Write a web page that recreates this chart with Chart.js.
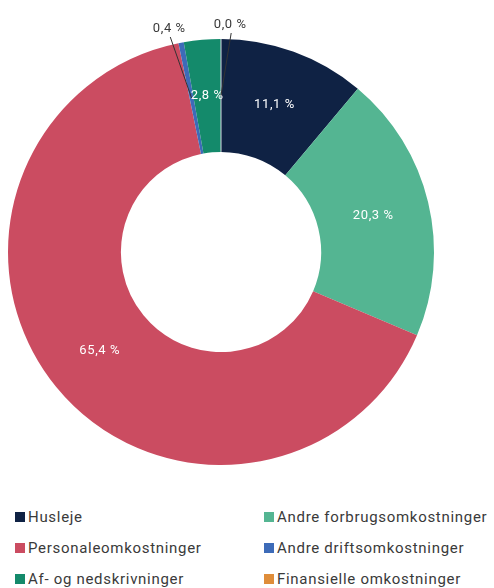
<!DOCTYPE html>
<html>
<head>
<meta charset="utf-8">
<script src="https://cdn.jsdelivr.net/npm/chart.js@4.4.1/dist/chart.umd.min.js"></script>
<style>
    html, body {
        margin: 0;
        padding: 0;
        background: #ffffff;
    }
    #wrap {
        position: relative;
        width: 494px;
        height: 588px;
        overflow: hidden;
    }
    #chart {
        position: absolute;
        left: 0;
        top: 0;
    }
    .legend-item {
        position: absolute;
        font-family: Roboto, "Noto Sans", sans-serif;
        font-size: 15px;
        color: #3a3a3a;
        white-space: nowrap;
        line-height: 18px;
        letter-spacing: 0.7px;
    }
    .legend-item span {
        display: inline-block;
        width: 10px;
        height: 10px;
        margin-right: 3px;
    }
</style>
</head>
<body>
<div id="wrap">
    <canvas id="chart" width="494" height="500"></canvas>
    <div id="legend"></div>
</div>
<script>
// Cost categories (clockwise from 12 o'clock)
const categories = [
    'Husleje',
    'Andre forbrugsomkostninger',
    'Personaleomkostninger',
    'Andre driftsomkostninger',
    'Af- og nedskrivninger',
    'Finansielle omkostninger'
];

// Share of total costs, percent
const shares = [11.1, 20.3, 65.4, 0.4, 2.8, 0.0];

const sliceColors = ['#0f2244', '#54b592', '#cb4c61', '#3d6bb8', '#148a6b', '#df8d3a'];

const labelFont = '13px Roboto, "Noto Sans", sans-serif';

function formatShare(v) {
    return v.toFixed(1).replace('.', ',') + ' %';
}

/**
 * Draws the percentage labels: inside the ring for normal slices,
 * above the ring with a leader line for the tiny ones.
 */
const sliceLabels = {
    id: 'sliceLabels',
    afterDatasetsDraw(chart) {
        const ctx = chart.ctx;
        const meta = chart.getDatasetMeta(0);
        const values = chart.data.datasets[0].data;
        const outside = [];

        ctx.save();
        ctx.font = labelFont;
        ctx.letterSpacing = '0.6px';
        ctx.textAlign = 'center';
        ctx.textBaseline = 'middle';

        meta.data.forEach((arc, i) => {
            const p = arc.getProps(['x', 'y', 'startAngle', 'endAngle', 'innerRadius', 'outerRadius'], true);
            const mid = (p.startAngle + p.endAngle) / 2;
            const rMid = (p.innerRadius + p.outerRadius) / 2;
            const text = formatShare(values[i]);

            // zero slices still get a hairline where they sit
            if (values[i] === 0) {
                ctx.strokeStyle = '#d8dde3';
                ctx.lineWidth = 1;
                ctx.beginPath();
                ctx.moveTo(p.x + Math.cos(mid) * p.innerRadius, p.y + Math.sin(mid) * p.innerRadius);
                ctx.lineTo(p.x + Math.cos(mid) * p.outerRadius, p.y + Math.sin(mid) * p.outerRadius);
                ctx.stroke();
            }

            if (values[i] < 1) {
                const rOut = p.outerRadius + 14;
                outside.push({
                    text,
                    w: ctx.measureText(text).width,
                    ax: p.x + Math.cos(mid) * rMid,
                    ay: p.y + Math.sin(mid) * rMid,
                    lx: p.x + Math.cos(mid) * rOut,
                    ly: p.y + Math.sin(mid) * rOut
                });
            } else {
                ctx.fillStyle = '#ffffff';
                ctx.fillText(text, p.x + Math.cos(mid) * rMid, p.y + Math.sin(mid) * rMid);
            }
        });

        // push overlapping outside labels apart
        outside.sort((a, b) => a.lx - b.lx);
        for (let k = 1; k < outside.length; k++) {
            const a = outside[k - 1];
            const b = outside[k];
            const need = (a.w + b.w) / 2 + 28;
            const gap = b.lx - a.lx;
            if (gap < need && Math.abs(a.ly - b.ly) < 16) {
                const shift = (need - gap) / 2;
                a.lx -= shift;
                b.lx += shift;
            }
        }

        outside.forEach(o => {
            ctx.strokeStyle = '#333333';
            ctx.lineWidth = 1;
            ctx.beginPath();
            ctx.moveTo(o.lx + 1, o.ly + 8);
            ctx.lineTo(o.ax, o.ay);
            ctx.stroke();

            ctx.fillStyle = '#3a3a3a';
            ctx.fillText(o.text, o.lx, o.ly);
        });

        ctx.restore();
    }
};

new Chart(document.getElementById('chart'), {
    type: 'doughnut',
    data: {
        labels: categories,
        datasets: [{
            data: shares,
            backgroundColor: sliceColors,
            borderWidth: 0
        }]
    },
    options: {
        responsive: false,
        animation: false,
        cutout: '47%',
        layout: {
            padding: { left: 8, top: 39, right: 60, bottom: 35 }
        },
        plugins: {
            legend: { display: false },
            tooltip: { enabled: false }
        }
    },
    plugins: [sliceLabels]
});

// two-column legend under the chart, same order as the data
const legendEl = document.getElementById('legend');
categories.forEach((name, i) => {
    const col = i % 2;
    const row = Math.floor(i / 2);
    const item = document.createElement('div');
    item.className = 'legend-item';
    item.style.left = (col === 0 ? 15 : 264) + 'px';
    item.style.top = (508 + row * 31) + 'px';
    item.innerHTML = '<span style="background:' + sliceColors[i] + '"></span>' + name;
    legendEl.appendChild(item);
});
</script>
</body>
</html>
